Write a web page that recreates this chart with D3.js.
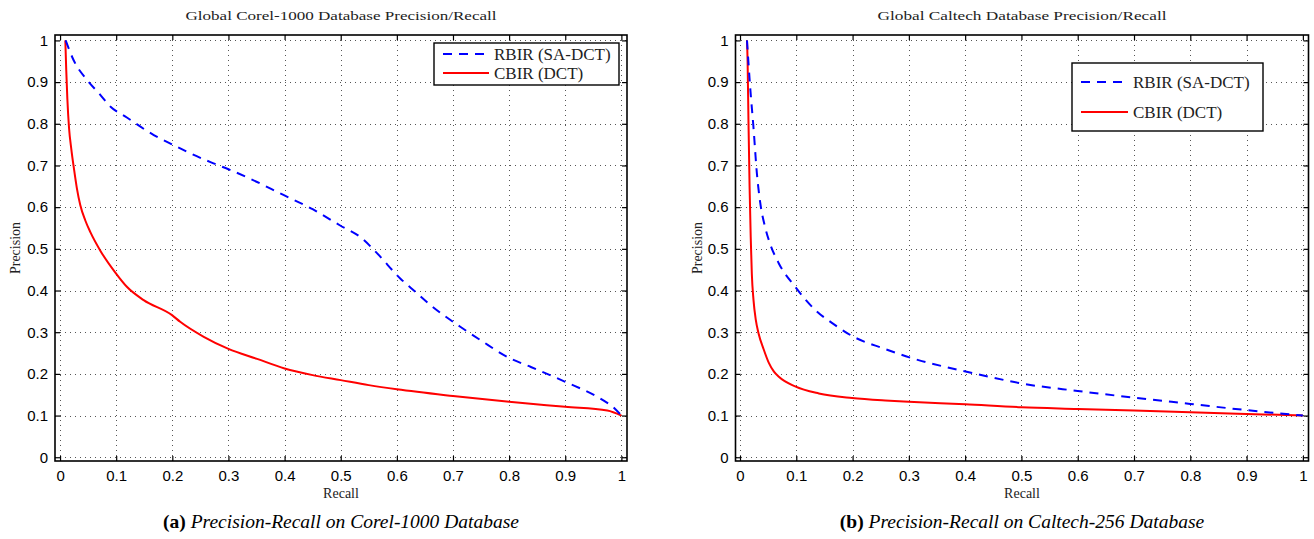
<!DOCTYPE html>
<html>
<head>
<meta charset="utf-8">
<script src="https://cdn.jsdelivr.net/npm/d3@7"></script>
<style>
  html, body { margin: 0; padding: 0; background: #fff; }
  svg { display: block; }
</style>
</head>
<body>
<svg id="chart" width="1314" height="539"></svg>
<script>
// ---------- DATA ----------
const tickValues = [0, 0.1, 0.2, 0.3, 0.4, 0.5, 0.6, 0.7, 0.8, 0.9, 1];
const tickLabels = ["0", "0.1", "0.2", "0.3", "0.4", "0.5", "0.6", "0.7", "0.8", "0.9", "1"];
const seriesNames = ["RBIR (SA-DCT)", "CBIR (DCT)"];

// Corel-1000
const corelRbirRecall = [0.01, 0.024, 0.048, 0.07, 0.09, 0.119, 0.167, 0.202, 0.226, 0.268, 0.30, 0.35, 0.392, 0.45, 0.499, 0.538, 0.565, 0.606, 0.633, 0.66, 0.713, 0.749, 0.802, 0.838, 0.90, 0.962, 0.988, 1.0];
const corelRbirPrecision = [1.0, 0.953, 0.905, 0.872, 0.841, 0.815, 0.773, 0.749, 0.733, 0.708, 0.691, 0.661, 0.633, 0.595, 0.556, 0.525, 0.489, 0.429, 0.397, 0.365, 0.313, 0.281, 0.237, 0.217, 0.181, 0.141, 0.117, 0.1];
const corelCbirRecall = [0.0094, 0.011, 0.013, 0.016, 0.020, 0.025, 0.030, 0.036, 0.045, 0.054, 0.072, 0.0985, 0.119, 0.149, 0.1995, 0.214, 0.256, 0.30, 0.351, 0.40, 0.45, 0.50, 0.55, 0.60, 0.70, 0.80, 0.90, 0.975, 1.0];
const corelCbirPrecision = [1.0, 0.93, 0.86, 0.79, 0.74, 0.69, 0.645, 0.605, 0.568, 0.540, 0.495, 0.443, 0.409, 0.377, 0.341, 0.325, 0.289, 0.260, 0.236, 0.213, 0.197, 0.185, 0.173, 0.163, 0.147, 0.133, 0.121, 0.112, 0.1];

// Caltech-256
const caltechRbirRecall = [0.0124, 0.018, 0.024, 0.030, 0.036, 0.045, 0.054, 0.069, 0.098, 0.134, 0.169, 0.199, 0.255, 0.317, 0.377, 0.436, 0.5, 0.6, 0.7, 0.8, 0.9, 1.0];
const caltechRbirPrecision = [1.0, 0.889, 0.790, 0.681, 0.610, 0.550, 0.510, 0.465, 0.409, 0.353, 0.317, 0.291, 0.261, 0.233, 0.213, 0.195, 0.177, 0.159, 0.143, 0.128, 0.113, 0.1];
const caltechCbirRecall = [0.0124, 0.0135, 0.015, 0.017, 0.019, 0.021, 0.024, 0.028, 0.033, 0.042, 0.051, 0.060, 0.069, 0.098, 0.140, 0.199, 0.258, 0.30, 0.40, 0.5, 0.6, 0.7, 0.8, 0.9, 1.0];
const caltechCbirPrecision = [1.0, 0.95, 0.81, 0.65, 0.53, 0.44, 0.377, 0.33, 0.297, 0.259, 0.227, 0.206, 0.193, 0.170, 0.153, 0.142, 0.136, 0.133, 0.127, 0.120, 0.116, 0.112, 0.108, 0.104, 0.1];

// ---------- LAYOUT ----------
const SERIF = "'Liberation Serif', 'Times New Roman', serif";
const SANS = "'Liberation Sans', Arial, Helvetica, sans-serif";

const panels = [
  {
    title: "Global Corel-1000 Database Precision/Recall", titleW: 311,
    capLetter: "(a)", capText: " Precision-Recall on Corel-1000 Database",
    left: 55, right: 627, top: 35, bottom: 461,
    xdom: [-0.009, 1.01], ydom: [-0.009, 1.013],
    ylabX: 15,
    legend: { x: 434, y: 43, w: 185, h: 42, row1: 54, row2: 73, sx0: 443, sx1: 489, tx: 494 },
    rbir: [corelRbirRecall, corelRbirPrecision],
    cbir: [corelCbirRecall, corelCbirPrecision]
  },
  {
    title: "Global Caltech Database Precision/Recall", titleW: 289,
    capLetter: "(b)", capText: " Precision-Recall on Caltech-256 Database",
    left: 735.5, right: 1308.5, top: 35, bottom: 461,
    xdom: [-0.008, 1.01], ydom: [-0.009, 1.013],
    ylabX: 697,
    legend: { x: 1072, y: 63, w: 191, h: 68, row1: 82, row2: 112, sx0: 1081, sx1: 1128, tx: 1133 },
    rbir: [caltechRbirRecall, caltechRbirPrecision],
    cbir: [caltechCbirRecall, caltechCbirPrecision]
  }
];

const svg = d3.select("#chart");

panels.forEach(p => {
  const x = d3.scaleLinear().domain(p.xdom).range([p.left, p.right]);
  const y = d3.scaleLinear().domain(p.ydom).range([p.bottom, p.top]);
  const g = svg.append("g");
  const cx = (p.left + p.right) / 2;

  // grid
  const grid = g.append("g").attr("stroke", "#555").attr("stroke-width", 1)
    .attr("stroke-dasharray", "1,4").attr("shape-rendering", "crispEdges");
  grid.selectAll("line.v").data(tickValues).join("line").attr("class", "v")
    .attr("x1", d => Math.round(x(d)) + 0.5).attr("x2", d => Math.round(x(d)) + 0.5)
    .attr("y1", p.top).attr("y2", p.bottom);
  grid.selectAll("line.h").data(tickValues).join("line").attr("class", "h")
    .attr("y1", d => Math.round(y(d)) + 0.5).attr("y2", d => Math.round(y(d)) + 0.5)
    .attr("x1", p.left).attr("x2", p.right);

  // axes with inward ticks
  const fmt = (d, i) => tickLabels[i];
  const axB = g.append("g").attr("transform", `translate(0,${p.bottom})`)
    .call(d3.axisBottom(x).tickValues(tickValues).tickFormat(fmt).tickSize(-5).tickPadding(9));
  const axL = g.append("g").attr("transform", `translate(${p.left},0)`)
    .call(d3.axisLeft(y).tickValues(tickValues).tickFormat(fmt).tickSize(-5).tickPadding(7));
  const axT = g.append("g").attr("transform", `translate(0,${p.top})`)
    .call(d3.axisTop(x).tickValues(tickValues).tickFormat("").tickSize(-5));
  const axR = g.append("g").attr("transform", `translate(${p.right},0)`)
    .call(d3.axisRight(y).tickValues(tickValues).tickFormat("").tickSize(-5));
  [axB, axL, axT, axR].forEach(a => {
    a.select(".domain").remove();
    a.selectAll("line").attr("stroke", "#000").attr("stroke-width", 1.2);
    a.selectAll("text").attr("font-family", SANS).attr("font-size", 15).attr("fill", "#000");
  });

  // box
  g.append("rect").attr("x", p.left).attr("y", p.top)
    .attr("width", p.right - p.left).attr("height", p.bottom - p.top)
    .attr("fill", "none").attr("stroke", "#000").attr("stroke-width", 1.6);

  // lines
  const line = d3.line().x(d => x(d[0])).y(d => y(d[1])).curve(d3.curveMonotoneX);
  const rb = p.rbir[0].map((r, i) => [r, p.rbir[1][i]]);
  const cb = p.cbir[0].map((r, i) => [r, p.cbir[1][i]]);
  g.append("path").datum(cb).attr("d", line).attr("fill", "none")
    .attr("stroke", "#ff0000").attr("stroke-width", 2);
  g.append("path").datum(rb).attr("d", line).attr("fill", "none")
    .attr("stroke", "#0000ff").attr("stroke-width", 2).attr("stroke-dasharray", "9,7");

  // title
  g.append("text").attr("x", cx).attr("y", 20).attr("text-anchor", "middle")
    .attr("font-family", SERIF).attr("font-size", 13).attr("fill", "#222")
    .attr("textLength", p.titleW).attr("lengthAdjust", "spacingAndGlyphs")
    .text(p.title);

  // axis labels
  g.append("text").attr("x", cx).attr("y", 498).attr("text-anchor", "middle")
    .attr("font-family", SERIF).attr("font-size", 14).attr("fill", "#222")
    .text("Recall");
  g.append("text").attr("transform", `translate(${p.ylabX + 5},${(p.top + p.bottom) / 2}) rotate(-90)`)
    .attr("text-anchor", "middle")
    .attr("font-family", SERIF).attr("font-size", 14).attr("fill", "#222")
    .text("Precision");

  // legend
  const L = p.legend;
  const lg = g.append("g");
  lg.append("rect").attr("x", L.x).attr("y", L.y).attr("width", L.w).attr("height", L.h)
    .attr("fill", "#fff").attr("stroke", "#000").attr("stroke-width", 1.4);
  const rows = [
    { name: seriesNames[0], color: "#0000ff", dash: "9,7", yy: L.row1 },
    { name: seriesNames[1], color: "#ff0000", dash: null, yy: L.row2 }
  ];
  rows.forEach(r => {
    lg.append("line").attr("x1", L.sx0).attr("x2", L.sx1).attr("y1", r.yy).attr("y2", r.yy)
      .attr("stroke", r.color).attr("stroke-width", 2).attr("stroke-dasharray", r.dash);
    lg.append("text").attr("x", L.tx).attr("y", r.yy + 5.5)
      .attr("font-family", SERIF).attr("font-size", 17).attr("fill", "#222")
      .text(r.name);
  });

  // caption
  const cap = g.append("text").attr("x", cx).attr("y", 528).attr("text-anchor", "middle")
    .attr("font-family", SERIF).attr("font-size", 19.5).attr("fill", "#000");
  cap.append("tspan").attr("font-weight", "bold").text(p.capLetter);
  cap.append("tspan").attr("font-style", "italic").text(p.capText);
});
</script>
</body>
</html>
